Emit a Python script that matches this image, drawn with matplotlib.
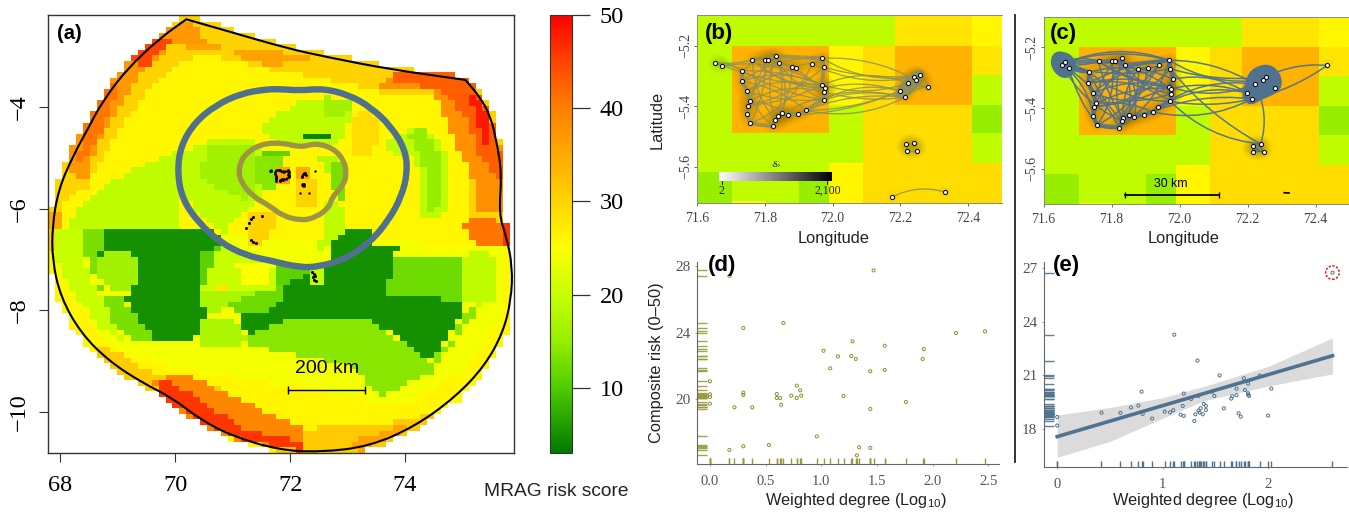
import numpy as np
import matplotlib
matplotlib.use("Agg")
import matplotlib.pyplot as plt
from matplotlib.colors import LinearSegmentedColormap, Normalize
from matplotlib.path import Path
from matplotlib.patches import PathPatch, FancyArrowPatch
from matplotlib.cm import ScalarMappable

W, H = 1349, 513
SANS = "Liberation Sans"
SERIF = "Liberation Serif"
plt.rcParams["font.family"] = SANS
plt.rcParams["mathtext.fontset"] = "custom"
plt.rcParams["mathtext.rm"] = SANS

# ---------- risk colour scale ----------
risk_stops = [3, 10, 15, 20, 25, 30, 35, 40, 45, 50]
risk_colors = ["#007a00", "#50cc00", "#98ee00", "#c8ff00", "#ffff00",
               "#ffd400", "#ffaa00", "#ff8000", "#ff4500", "#ff0000"]
risk_norm = Normalize(3, 50)
risk_cmap = LinearSegmentedColormap.from_list(
    "risk", [((v - 3) / 47, c) for v, c in zip(risk_stops, risk_colors)])

# ---------- panel (a): digitised map zones, sheet units converted to lon/lat ----------
def sheet(points):
    p = np.array(points, float)
    return np.c_[72 + (p[:, 0] - 708) / 140, -4 - (p[:, 1] - 321) / 153]

boundary = [(455,58),(455,58),(560,95),(700,145),(800,172),(950,208),(1135,240),(1135,240),(1170,290),(1197,350),
            (1212,430),(1224,520),(1217,645),(1235,710),(1250,800),(1247,900),(1227,1000),
            (1182,1100),(1112,1192),(1012,1282),(900,1342),(780,1359),(680,1352),(570,1312),
            (490,1262),(420,1195),(350,1152),(268,1087),(198,1002),(148,892),(128,780),
            (128,680),(143,570),(178,470),(218,380),(248,310),(308,210),(390,115)]
blue_ring = [(730,272),(790,266),(853,286),(904,322),(953,378),(989,450),(994,520),(979,592),
             (948,662),(903,728),(842,779),(780,801),(730,804),(660,783),(600,768),(537,728),
             (487,672),(446,602),(433,520),(441,438),(476,367),(527,316),(588,281),(650,268),(690,268)]
tan_ring = [(735,443),(770,430),(812,445),(838,478),(846,520),(838,557),(810,592),(804,622),
            (772,653),(735,663),(688,648),(658,618),(618,592),(587,546),(582,505),(597,463),
            (638,432),(690,429)]

zones = [
 (30, [(110,690),(160,690),(160,600),(215,560),(250,470),(300,380),(350,290),(420,200),(480,165),
       (570,180),(660,210),(760,230),(905,265),(960,290),(1060,290),(1115,410),(1150,520),(1150,620),
       (1130,680),(1180,745),(1270,745),(1300,300),(1100,180),(455,30),(100,400)]),
 (37, [(180,525),(220,540),(225,470),(270,360),(300,310),(345,225),(420,130),(500,130),(470,70),
       (380,80),(250,270),(160,470)]),
 (41, [(190,480),(205,480),(270,340),(290,250),(270,260),(210,370)]),
 (45, [(335,200),(360,195),(420,120),(385,105),(320,180)]),
 (36, [(460,130),(540,130),(540,150),(460,150)]),
 (36, [(560,145),(700,160),(750,160),(750,185),(650,195),(570,165)]),
 (35, [(110,640),(160,640),(160,690),(110,690)]),
 (30, [(110,690),(135,690),(135,750),(110,750)]),
 (30, [(1240,735),(1270,735),(1270,935),(1240,935)]),
 (38, [(920,260),(960,225),(1100,220),(1130,245),(1185,310),(1225,450),(1225,640),(1170,640),
       (1150,520),(1110,430),(1070,300),(1060,270),(985,265)]),
 (43, [(960,220),(1130,220),(1195,330),(1220,450),(1220,540),(1170,470),(1140,350),(1070,275),(960,240)]),
 (48, [(1140,270),(1180,310),(1200,430),(1180,440),(1160,340)]),
 (41, [(1130,665),(1170,655),(1245,670),(1245,745),(1180,745),(1130,690)]),
 (46, [(1225,670),(1245,670),(1245,740),(1225,740)]),
 (24, [(130,690),(1235,740),(1235,940),(1130,1110),(980,1220),(700,1160),(400,1100),(270,1040),(180,900),(130,800)]),
 (31, [(260,1040),(370,1120),(470,1130),(730,1290),(1000,1265),(1060,1240),(1010,1370),(700,1370),(250,1130),(240,1040)]),
 (39, [(370,1145),(430,1120),(480,1140),(740,1290),(740,1350),(600,1330),(480,1270),(400,1190)]),
 (46, [(380,1150),(420,1150),(520,1230),(600,1290),(735,1330),(735,1355),(600,1325),(480,1260),(400,1195)]),
 (36, [(850,1330),(1000,1270),(1000,1290),(880,1355)]),
 (19, [(160,690),(215,590),(340,500),(430,460),(440,690)]),
 (20, [(135,695),(205,695),(205,800),(250,900),(300,1020),(240,980),(160,840),(135,760)]),
 (13, [(205,695),(250,695),(250,740),(230,790),(250,880),(300,900),(380,1025),(330,1020),(270,960),(240,860),(205,760)]),
 (5,  [(250,690),(520,690),(540,735),(490,760),(485,860),(510,950),(470,1025),(380,1025),(305,900),(320,870),(345,810),(310,760),(270,750),(230,790),(250,740)]),
 (16, [(265,755),(315,755),(345,790),(345,830),(315,868),(265,868),(232,830),(232,790)]),
 (11, [(495,760),(540,735),(540,830),(490,860)]),
 (20, [(540,735),(600,770),(660,790),(680,860),(620,880),(560,870),(500,925),(485,860),(500,850)]),
 (25, [(575,790),(650,790),(650,865),(600,860)]),
 (28, [(530,860),(555,860),(555,885),(530,885)]),
 (17, [(485,870),(560,870),(620,880),(555,930),(500,935)]),
 (12, [(555,920),(620,880),(690,860),(690,900),(640,940),(570,940)]),
 (5,  [(690,860),(760,810),(805,790),(805,720),(830,690),(905,690),(915,735),(975,740),(955,790),(945,895),
       (1130,900),(1120,960),(1050,1085),(895,950),(870,970),(700,960),(605,1005),(580,945),(640,940),(690,900)]),
 (12, [(955,775),(1130,775),(1130,900),(945,895)]),
 (19, [(1130,780),(1160,750),(1200,750),(1215,900),(1170,920),(1130,900)]),
 (14, [(600,1010),(700,960),(880,950),(1050,1085),(1100,1030),(1130,940),(1170,920),(1110,1020),(1050,1120),(930,1190),(860,1100),(700,1060),(600,1040)]),
 (17, [(510,950),(570,960),(600,1010),(590,1040),(480,1035),(480,985)]),
 (11, [(680,790),(760,810),(700,860),(680,860)]),
 (19, [(760,810),(790,810),(790,860),(760,860)]),
 (19, [(930,420),(1030,375),(1100,470),(1100,620),(1060,660),(1020,640),(1030,530),(1000,460),(960,480)]),
 (15, [(985,400),(1030,385),(1080,470),(1085,610),(1050,640),(1040,520),(1010,440)]),
 (19, [(680,340),(740,300),(860,300),(860,350),(820,440),(680,440),(630,380)]),
 (16, [(790,290),(860,310),(860,340),(800,350)]),
 (29, [(860,345),(900,340),(935,380),(905,470),(860,460)]),
 (19, [(430,470),(510,425),(630,425),(640,600),(585,650),(545,700),(470,620),(430,560)]),
 (16, [(505,430),(620,430),(625,570),(600,600),(530,570),(490,530)]),
 (14, [(625,470),(690,450),(700,510),(665,520),(665,570),(625,560)]),
 (11, [(640,445),(700,445),(700,470),(640,470)]),
 (18, [(780,470),(815,470),(830,510),(785,520)]),
 (13, [(800,480),(840,490),(845,590),(830,600),(800,530)]),
 (4,  [(695,412),(735,412),(735,425),(695,425)]),
 (4,  [(740,398),(805,398),(805,412),(740,412)]),
 (36, [(665,505),(708,505),(708,548),(665,548)]),
 (35, [(730,505),(762,505),(762,542),(730,542)]),
 (30, [(722,545),(780,545),(780,615),(722,615)]),
 (30, [(600,640),(665,640),(665,690),(630,740),(600,740)]),
 (19, [(790,610),(830,600),(840,700),(780,750)]),
]
base_risk = 26
atoll_lon = [71.28, 71.32, 71.36, 71.51, 71.23, 71.32, 71.36, 71.40, 72.38, 72.41, 72.44, 72.42, 72.45, 72.40]
atoll_lat = [-6.28, -6.20, -6.16, -6.15, -6.38, -6.62, -6.66, -6.68, -7.25, -7.28, -7.33, -7.40, -7.43, -7.35]

# ---------- panels (b, c): coarse risk grid ----------
grid_lon = [71.6, 71.705, 71.805, 71.90, 71.99, 72.09, 72.185, 72.41, 72.5]
grid_lat = [-5.09, -5.2, -5.296, -5.394, -5.489, -5.586, -5.617, -5.712, -5.73]
grid_risk = [
 [19, 19, 19, 19, 19, 19, 28, 26],
 [19, 34, 34, 34, 26, 29, 34, 28],
 [19, 34, 34, 34, 26, 29, 34, 19],
 [19, 34, 34, 34, 19, 29, 29, 15],
 [19, 19, 19, 19, 19, 29, 29, 19],
 [19, 19, 19, 19, 26, 29, 29, 29],
 [15, 19, 19, 15, 26, 29, 29, 29],
 [15, 26, 19, 15, 26, 29, 29, 29],
]

# ---------- panel (b): network ----------
b_lon = [71.655,71.675,71.734,71.733,71.747,71.757,71.750,71.747,71.758,71.764,71.80,71.81,71.832,71.841,
         71.881,71.892,71.940,71.969,71.974,71.970,71.977,71.974,71.974,71.922,71.898,71.869,71.852,71.839,
         71.831,71.824,72.198,72.222,72.241,72.245,72.257,72.282,72.213,72.217,72.241,72.218,72.249,72.176,72.332]
b_lat = [-5.255,-5.266,-5.282,-5.317,-5.350,-5.381,-5.397,-5.425,-5.456,-5.246,-5.245,-5.245,-5.234,-5.256,
         -5.269,-5.273,-5.259,-5.241,-5.270,-5.329,-5.339,-5.352,-5.378,-5.413,-5.425,-5.429,-5.423,-5.432,
         -5.444,-5.466,-5.349,-5.323,-5.302,-5.312,-5.297,-5.335,-5.370,-5.525,-5.522,-5.546,-5.548,-5.699,-5.683]
b_edges = [(0,1),(0,2),(0,9),(1,2),(2,3),(3,4),(4,5),(5,6),(6,7),(7,8),(8,29),(29,28),(28,27),(27,26),(26,25),
           (25,24),(24,23),(23,22),(22,21),(21,20),(20,19),(19,18),(18,17),(17,16),(16,15),(15,14),(14,13),
           (13,12),(12,11),(11,10),(10,9),(9,2),(2,29),(3,23),(4,22),(5,21),(9,28),(10,8),(11,7),(12,26),
           (13,5),(14,29),(15,4),(16,8),(17,3),(18,6),(19,2),(20,9),(21,10),(22,13),(2,22),(3,19),(9,20),
           (13,27),(0,19),(1,20),(12,28),(5,25),(6,19),(4,20),(17,32),(17,33),(18,34),(19,31),(16,32),(20,30),
           (21,36),(22,30),(23,36),(24,36),(25,30),(26,36),(19,33),(22,36),(23,30),(30,31),(31,32),(32,33),
           (33,34),(34,35),(35,36),(30,36),(31,35),(30,35),(37,38),(37,39),(39,40),(41,42)]
b_east_hull_lon = [72.195, 72.24, 72.265, 72.27, 72.21, 72.185]
b_east_hull_lat = [-5.335, -5.285, -5.278, -5.31, -5.38, -5.365]
b_rim = [2, 3, 4, 5, 7, 8, 29, 28, 26, 24, 23, 22, 21, 19, 18, 17, 12, 9]

# ---------- panel (c): network ----------
c_lon = [71.655,71.663,71.674,71.734,71.731,71.746,71.754,71.747,71.746,71.758,71.762,71.80,71.809,71.832,71.839,
         71.879,71.907,71.939,71.969,71.973,71.981,71.970,71.975,71.974,71.973,71.938,71.922,71.895,71.867,71.851,
         71.833,71.831,71.822,72.434,72.253,72.246,72.222,72.281,72.198,72.213,72.215,72.239,72.215,72.247]
c_lat = [-5.257,-5.249,-5.268,-5.282,-5.318,-5.352,-5.385,-5.395,-5.427,-5.456,-5.247,-5.247,-5.247,-5.236,-5.259,
         -5.271,-5.269,-5.26,-5.243,-5.271,-5.305,-5.330,-5.336,-5.353,-5.378,-5.398,-5.413,-5.424,-5.428,-5.422,
         -5.431,-5.442,-5.464,-5.26,-5.298,-5.307,-5.322,-5.334,-5.350,-5.370,-5.524,-5.518,-5.543,-5.545]
c_edges = [(0,1),(1,2),(0,10),(1,10),(2,3),(0,3),(3,4),(4,5),(5,6),(6,7),(7,8),(8,9),(9,32),(0,32),(2,9),(0,8),
           (0,31),(1,18),(2,19),(0,18),(10,11),(11,12),(12,13),(13,14),(14,15),(15,16),(16,17),(17,18),(18,19),
           (19,20),(20,21),(21,22),(22,23),(23,24),(24,25),(25,26),(26,27),(27,28),(28,29),(29,30),(30,31),(31,32),
           (3,31),(4,24),(5,23),(6,22),(10,30),(11,9),(12,8),(13,29),(14,6),(15,32),(16,5),(17,9),(18,4),(19,7),
           (20,3),(21,10),(22,11),(23,14),(3,24),(4,21),(10,22),(14,28),(13,31),(6,26),(7,21),(5,22),(15,30),(16,31),
           (17,30),(18,32),(18,35),(18,36),(19,34),(20,38),(21,36),(22,38),(24,39),(25,38),(26,39),(27,39),(19,41),
           (25,36),(24,41),(34,33),(39,33),(36,41),(34,35),(35,36),(36,37),(37,38),(38,39),(39,34),(40,41),(40,42),
           (41,43),(42,43),(40,43),(41,42)]
c_hub_lon = [71.628, 71.655, 71.685, 71.695, 71.675, 71.645, 71.622]
c_hub_lat = [-5.222, -5.215, -5.232, -5.268, -5.30, -5.295, -5.26]
c_east_lon = [72.21, 72.26, 72.295, 72.30, 72.24, 72.205, 72.185, 72.195]
c_east_lat = [-5.275, -5.255, -5.285, -5.34, -5.37, -5.39, -5.36, -5.32]
c_rim = [0, 3, 4, 5, 6, 8, 9, 32, 31, 30, 28, 26, 25, 24, 23, 21, 20, 19, 18, 14, 12, 10, 1]
dash_lon = [72.308, 72.322]
dash_lat = [-5.678, -5.679]

# ---------- panel (d) ----------
d_degree = [1.47,.175,.66,.30,2.21,2.47,1.28,1.57,1.92,1.02,1.15,1.27,1.31,1.91,1.08,1.44,1.57,0,.78,.81,.30,.30,0,0,
            .60,.60,.63,.73,.78,.82,1.20,1.76,0,.64,.22,.38,1.44,.96,.53,.30,.175,1.34,1.44,1.32]
d_risk = [27.72,27.39,24.57,24.27,23.97,24.07,23.47,23.21,23.01,22.91,22.57,22.59,22.42,22.42,21.86,21.68,21.76,21.08,
          20.82,20.54,20.40,20.26,20.30,20.14,20.32,20.08,20.08,20.22,20.08,20.22,20.2,19.84,19.74,19.68,19.52,19.52,
          19.42,17.78,17.27,17.19,16.97,17.13,17.09,16.65]

# ---------- panel (e) ----------
e_degree = [2.61,1.11,1.33,1.54,1.92,1.77,1.81,.80,1.20,1.70,1.78,2.03,1.81,1.81,1.82,1.47,1.49,1.70,1.66,1.65,1.34,1.27,
            1.19,1.39,1.41,1.41,1.36,1.34,1.58,.70,.77,.81,.60,.42,0,0,.90,1.02,1.07,1.10,1.17,1.20,1.31,1.35,1.38,1.30,
            1.72,1.74,2.0]
e_risk = [26.76,23.28,21.83,21.0,20.99,20.84,20.54,20.09,19.98,20.26,20.18,20.26,20.0,19.92,19.85,20.09,19.85,19.89,19.83,
          19.7,19.85,19.68,19.29,19.4,19.29,19.06,19.16,19.03,19.16,19.2,19.31,18.84,18.9,18.91,18.67,18.19,18.58,18.97,
          18.93,19.05,18.8,18.73,18.82,18.92,18.82,18.45,18.88,18.69,18.75]
fit_x = [0, 2.61]
fit_y = [17.57, 22.1]
band_x = [0, .5, 1, 1.4, 2, 2.61]
band_hi = [18.78, 19.2, 19.75, 20.4, 21.5, 23.1]
band_lo = [16.41, 17.3, 18.6, 19.6, 20.4, 21.08]

# ---------- helpers ----------
fig = plt.figure(figsize=(W / 100, H / 100), dpi=100)

def box(l, t, r, b):
    return fig.add_axes([l / W, 1 - b / H, (r - l) / W, (b - t) / H])

def fig_text(x, y, s, **kw):
    fig.text(x / W, 1 - y / H, s, ha=kw.pop("ha", "center"), va=kw.pop("va", "center"), **kw)

def smooth(points):
    p = np.array(points, float)
    n = len(p)
    mids = (p + np.roll(p, -1, axis=0)) / 2
    verts, codes = [mids[-1]], [Path.MOVETO]
    for i in range(n):
        verts += [p[i], mids[i]]
        codes += [Path.CURVE3, Path.CURVE3]
    return Path(verts, codes)

def glow(ax, lon, lat, strength, sigma=0.022):
    xl, yl = ax.get_xlim(), ax.get_ylim()
    gx, gy = np.meshgrid(np.linspace(*xl, 300), np.linspace(*yl, 200))
    d = np.zeros_like(gx)
    for a, b in zip(lon, lat):
        d += np.exp(-((gx - a) ** 2 + (gy - b) ** 2) / (2 * sigma ** 2))
    rgba = np.zeros(gx.shape + (4,))
    rgba[..., 3] = np.clip(d * strength - 0.08, 0, 0.75)
    ax.imshow(rgba, extent=(*xl, *yl), origin="lower", aspect="auto", zorder=2, interpolation="bilinear")
    ax.set_xlim(xl); ax.set_ylim(yl)

def network(ax, lon, lat, edges, color, alpha, lw):
    for k, (i, j) in enumerate(edges):
        rad = [0.18, -0.14, 0.1, -0.2][k % 4]
        ax.add_patch(FancyArrowPatch((lon[i], lat[i]), (lon[j], lat[j]), arrowstyle="-", shrinkA=0, shrinkB=0,
                                     connectionstyle=f"arc3,rad={rad}", color=color, alpha=alpha, lw=lw, zorder=3))

def map_panel(ax, ylim):
    ax.pcolormesh(grid_lon, grid_lat, np.array(grid_risk), cmap=risk_cmap, norm=risk_norm, shading="flat", zorder=1)
    ax.set_xlim(71.6, 72.5); ax.set_ylim(*ylim)
    ax.set_xticks([71.6, 71.8, 72.0, 72.2, 72.4])
    ax.set_xticklabels(["71.6", "71.8", "72.0", "72.2", "72.4"], family=SERIF, fontsize=10, color="#444444")
    ax.set_yticks([-5.2, -5.4, -5.6])
    ax.set_yticklabels(["\u22125.2", "\u22125.4", "\u22125.6"], family=SERIF, fontsize=10, color="#444444",
                       rotation=90, va="center")
    ax.tick_params(length=2.5, width=0.7, color="#666666", pad=1)
    ax.tick_params(axis="x", pad=4)
    for s in ax.spines.values():
        s.set_color("#888888"); s.set_linewidth(0.7)
    ax.spines["right"].set_visible(False)

# ---------- panel (a) ----------
ax = box(48.4, 15, 513.5, 453)
xlim_a, ylim_a = (67.79, 75.89), (-10.80, -2.196)
lon_edges = np.arange(67.79, 75.95, 0.12)
lat_edges = np.arange(-10.80, -2.15, 0.11)
cx, cy = np.meshgrid((lon_edges[:-1] + lon_edges[1:]) / 2, (lat_edges[:-1] + lat_edges[1:]) / 2)
cells = np.c_[cx.ravel(), cy.ravel()]
raster = np.full(cx.shape, float(base_risk))
for value, pts in zones:
    raster[Path(sheet(pts)).contains_points(cells).reshape(cx.shape)] = value
outline = Path(sheet(boundary))
inside = np.zeros(cx.shape, bool)
for dx, dy in [(-.06, -.055), (.06, -.055), (-.06, .055), (.06, .055), (0, 0)]:
    inside |= outline.contains_points(cells + [dx, dy]).reshape(cx.shape)
ax.pcolormesh(lon_edges, lat_edges, np.ma.array(raster, mask=~inside), cmap=risk_cmap, norm=risk_norm, shading="flat")
ax.add_patch(PathPatch(smooth(sheet(boundary).tolist()), fc="none", ec="black", lw=1.5, zorder=4, clip_on=False))
ax.add_patch(PathPatch(smooth(sheet(blue_ring).tolist()), fc="none", ec="#50708f", lw=4.6, zorder=5))
ax.add_patch(PathPatch(smooth(sheet(tan_ring).tolist()), fc="none", ec="#9c9445", lw=3.8, zorder=5))
ax.scatter(b_lon, b_lat, s=3, color="black", zorder=6, lw=0)
ax.scatter(c_lon, c_lat, s=3, color="black", zorder=6, lw=0)
ax.scatter(atoll_lon, atoll_lat, s=5, color="black", zorder=6, lw=0)
ax.plot([71.96, 73.3], [-9.56, -9.56], color="black", lw=1, marker="|", ms=6, mew=1, zorder=6)
ax.text(72.64, -9.14, "200 km", fontsize=14, ha="center", va="center", zorder=6)
ax.text(0.045, 0.958, "(a)", transform=ax.transAxes, fontsize=14.5, fontweight="bold", ha="center", va="center")
ax.set_xlim(*xlim_a); ax.set_ylim(*ylim_a)
ax.set_xticks([68, 70, 72, 74])
ax.set_xticklabels(["68", "70", "72", "74"], family=SERIF, fontsize=17.5)
ax.set_yticks([-4, -6, -8, -10])
ax.set_yticklabels(["\u22124", "\u22126", "\u22128", "\u221210"], family=SERIF, fontsize=17.5, rotation=90, va="center")
ax.tick_params(length=6.5, width=0.8, color="#333333")
ax.tick_params(axis="x", pad=9)
ax.tick_params(axis="y", pad=7)
for s in ax.spines.values():
    s.set_color("#333333"); s.set_linewidth(1)

cax = box(550.4, 15, 571.7, 453)
cb = fig.colorbar(ScalarMappable(risk_norm, risk_cmap), cax=cax)
cb.set_ticks([10, 20, 30, 40, 50])
cb.ax.set_yticklabels(["10", "20", "30", "40", "50"], family=SERIF, fontsize=17.5)
cb.ax.tick_params(length=13, width=0.9, color="#333333", pad=7)
cb.outline.set_edgecolor("#333333"); cb.outline.set_linewidth(0.8)
fig_text(556, 491.5, "MRAG risk score", fontsize=13.8, color="#222222")

# ---------- panel (b) ----------
OLIVE, BLUE = "#8f9058", "#4f7290"
ax = box(696.8, 15, 1002.3, 203.3)
map_panel(ax, (-5.72, -5.098))
glow(ax, b_lon, b_lat, 0.13)
network(ax, b_lon, b_lat, b_edges, OLIVE, 0.85, 0.95)
ax.add_patch(PathPatch(smooth(np.c_[b_east_hull_lon, b_east_hull_lat]), fc=OLIVE, ec=OLIVE, lw=1, zorder=3))
ax.plot(np.array(b_lon)[b_rim], np.array(b_lat)[b_rim], color=OLIVE, lw=2.8, alpha=0.75, zorder=3, solid_joinstyle="round")
ax.scatter(b_lon, b_lat, s=9, fc="white", ec="#111111", lw=0.8, zorder=5)
bar = np.linspace(0, 1, 256)[None, :]
ax.imshow(bar, cmap="gray_r", extent=(71.666, 71.997, -5.645, -5.618), aspect="auto", zorder=6)
ax.set_xlim(71.6, 72.5); ax.set_ylim(-5.72, -5.098)
for xv, lab in [(71.674, "2"), (71.985, "2,100")]:
    ax.plot([xv, xv], [-5.645, -5.655], color="black", lw=0.6, zorder=6)
    ax.text(xv, -5.68, lab, family=SERIF, fontsize=8.5, ha="center", va="center", color="#222222", zorder=6)
ax.text(71.834, -5.594, "\u2039S\u203a", family=SERIF, fontsize=5.5, ha="center", va="center", zorder=6)
fig_text(719.5, 33, "(b)", fontsize=16, fontweight="bold")
fig_text(657, 120, "Latitude", fontsize=11.7, rotation=90, color="#222222")
fig_text(834, 238, "Longitude", fontsize=11.8, color="#222222")

# ---------- panel (c) ----------
ax = box(1043.6, 16.7, 1349.5, 204.3)
map_panel(ax, (-5.716, -5.10))
glow(ax, c_lon, c_lat, 0.14)
network(ax, c_lon, c_lat, c_edges, BLUE, 0.95, 1.1)
ax.add_patch(PathPatch(smooth(np.c_[c_hub_lon, c_hub_lat]), fc=BLUE, ec=BLUE, lw=1.5, zorder=3))
ax.add_patch(PathPatch(smooth(np.c_[c_east_lon, c_east_lat]), fc=BLUE, ec=BLUE, lw=1.5, zorder=3))
ax.plot(np.array(c_lon)[c_rim], np.array(c_lat)[c_rim], color=BLUE, lw=3, alpha=0.85, zorder=3, solid_joinstyle="round")
ax.scatter(c_lon, c_lat, s=9, fc="white", ec="#111111", lw=0.8, zorder=5)
ax.plot(dash_lon, dash_lat, color="black", lw=1.2, zorder=5)
ax.plot([71.839, 72.116], [-5.685, -5.685], color="black", lw=1.3, marker="|", ms=4, mew=1, zorder=6)
ax.text(71.975, -5.649, "30 km", fontsize=8.8, ha="center", va="center", zorder=6)
fig_text(1063, 33, "(c)", fontsize=16, fontweight="bold")
fig_text(1184, 238, "Longitude", fontsize=11.8, color="#222222")

# ---------- panel (d) ----------
RUG_D = "#9a9a3c"
ax = box(696.8, 261.7, 999, 464.3)
ax.scatter(d_degree, d_risk, s=5, fc="none", ec="#8f8f30", lw=0.7, zorder=3)
ax.vlines(d_degree, 0, 0.03, transform=ax.get_xaxis_transform(), color=RUG_D, lw=1)
ax.hlines(d_risk, 0, 0.033, transform=ax.get_yaxis_transform(), color=RUG_D, lw=1, alpha=0.9)
ax.set_xlim(-0.118, 2.596); ax.set_ylim(16.11, 28.24)
ax.set_xticks([0, .5, 1, 1.5, 2, 2.5])
ax.set_xticklabels(["0.0", "0.5", "1.0", "1.5", "2.0", "2.5"], family=SERIF, fontsize=10.5, color="#555555")
ax.set_yticks([20, 24, 28])
ax.set_yticklabels(["20", "24", "28"], family=SERIF, fontsize=11, color="#555555")
ax.tick_params(length=1.5, width=0.5, color="#777777", pad=3)
ax.tick_params(axis="x", pad=6)
ax.spines[["top", "right"]].set_visible(False)
ax.spines[["left", "bottom"]].set_color("#666666")
fig_text(722, 265, "(d)", fontsize=16, fontweight="bold")
fig_text(657, 363, "Composite risk (0\u201350)", fontsize=11.8, rotation=90, color="#222222")
fig_text(856, 500.5, "Weighted degree (Log$_{10}$)", fontsize=11.8, color="#222222")

# ---------- panel (e) ----------
ax = box(1043.6, 261.7, 1346.8, 467.3)
ax.fill_between(band_x, band_lo, band_hi, color="#cfcfcf", alpha=0.75, lw=0, zorder=1)
ax.plot(fit_x, fit_y, color=BLUE, lw=2.6, zorder=2)
ax.scatter(e_degree, e_risk, s=5, fc="none", ec=BLUE, lw=0.7, zorder=3)
ax.scatter(e_degree[:1], e_risk[:1], s=95, fc="none", ec="#e02020", lw=1.1, linestyles=(0, (1.5, 1)), zorder=3)
ax.vlines(e_degree, 0, 0.03, transform=ax.get_xaxis_transform(), color=BLUE, lw=1)
ax.hlines(e_risk, 0, 0.033, transform=ax.get_yaxis_transform(), color=BLUE, lw=1, alpha=0.9)
ax.set_xlim(-0.129, 2.746); ax.set_ylim(15.85, 27.37)
ax.set_xticks([0, 1, 2])
ax.set_xticklabels(["0", "1", "2"], family=SERIF, fontsize=10.5, color="#555555")
ax.set_yticks([18, 21, 24, 27])
ax.set_yticklabels(["18", "21", "24", "27"], family=SERIF, fontsize=11, color="#555555")
ax.tick_params(length=1.5, width=0.5, color="#777777", pad=3)
ax.tick_params(axis="x", pad=6)
ax.spines[["top", "right"]].set_visible(False)
ax.spines[["left", "bottom"]].set_color("#666666")
fig_text(1066, 265, "(e)", fontsize=16, fontweight="bold")
fig_text(1203, 500.5, "Weighted degree (Log$_{10}$)", fontsize=11.8, color="#222222")

# ---------- divider ----------
fig.add_artist(plt.Line2D([1015 / W, 1015 / W], [1 - 15 / H, 1 - 462 / H], color="#222222", lw=1.3))

fig.savefig("out.png", dpi=100)
